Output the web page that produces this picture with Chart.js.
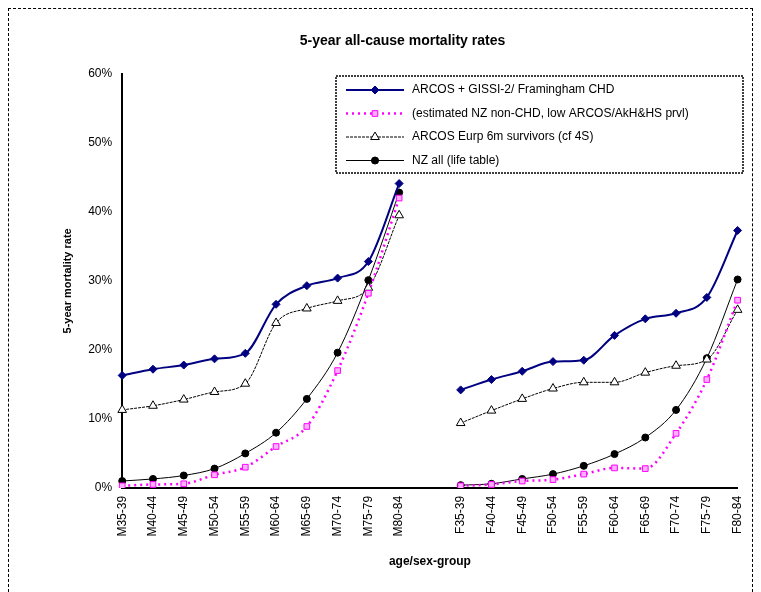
<!DOCTYPE html>
<html lang="en">
<head>
<meta charset="UTF-8">
<title>5-year mortality</title>
<script src="https://cdn.jsdelivr.net/npm/chart.js"></script>
<style>
  body { margin: 0; background: #fff; }
  #wrap { position: absolute; left: 8px; top: 8px; width: 745px; height: 584px; border: 1px dashed #000; border-bottom: none; box-sizing: border-box; }
  canvas { position: absolute; left: 0; top: 0; }
</style>
<script>
const labels = ['M35-39','M40-44','M45-49','M50-54','M55-59','M60-64','M65-69','M70-74','M75-79','M80-84','',
                'F35-39','F40-44','F45-49','F50-54','F55-59','F60-64','F65-69','F70-74','F75-79','F80-84'];
const arcosGissi = [16.3,17.2,17.8,18.7,19.5,26.6,29.3,30.4,32.8,44.1,null,14.2,15.7,16.9,18.3,18.5,22.1,24.5,25.3,27.6,37.3];
const nzNonChd   = [0.3,0.5,0.6,1.9,3.0,6.0,8.9,17.0,28.2,42.0,null,0.3,0.5,1.0,1.2,2.0,2.9,2.8,7.9,15.7,27.2];
const arcosEurp  = [11.3,11.9,12.8,13.9,15.1,23.9,26.0,27.1,29.0,39.5,null,9.4,11.2,12.9,14.4,15.3,15.3,16.7,17.7,18.6,25.8];
const nzAll      = [1.0,1.3,1.8,2.8,5.0,8.0,12.9,19.6,30.1,42.8,null,0.4,0.6,1.3,2.0,3.2,4.9,7.3,11.3,18.8,30.2];
const seriesNames = ['ARCOS + GISSI-2/ Framingham CHD','(estimated NZ non-CHD, low ARCOS/AkH&HS prvl)','ARCOS Eurp 6m survivors (cf 4S)','NZ all (life table)'];
</script>
</head>
<body>
<div id="wrap"><canvas id="c" width="745" height="584"></canvas></div>
<script>
Chart.defaults.font.family = '"Liberation Sans", Arial, sans-serif';
Chart.defaults.color = '#000';
const F = '"Liberation Sans", Arial, sans-serif';

const styles = [
  {color:'#000080', dash:[], width:2, point:'rectRot', fill:'#000080', radius:4},
  {color:'#ff00ff', dash:[2,4], width:2.5, point:'rect', fill:'#ffb0ff', radius:4},
  {color:'#000', dash:[3,1], width:1, point:'triangle', fill:'#fff', radius:5},
  {color:'#000', dash:[], width:1, point:'circle', fill:'#000', radius:3.5}
];
const arrays = [arcosGissi, nzNonChd, arcosEurp, nzAll];
const datasets = arrays.map((d,i)=>({
  label: seriesNames[i], data: d,
  borderColor: styles[i].color, borderDash: styles[i].dash, borderWidth: styles[i].width,
  pointStyle: styles[i].point, pointRadius: styles[i].radius,
  pointBackgroundColor: styles[i].fill, pointBorderColor: styles[i].color, pointBorderWidth: 1,
  tension: 0.15, spanGaps: false, cubicInterpolationMode: 'monotone'
}));

const legendBox = {
  id: 'legendBox',
  afterDraw(chart) {
    const ctx = chart.ctx;
    const x = 327, y = 67, w = 407, h = 97;
    ctx.save();
    ctx.fillStyle = '#fff';
    ctx.fillRect(x, y, w, h);
    ctx.setLineDash([2,1]); ctx.strokeStyle = '#000'; ctx.lineWidth = 1.5;
    ctx.strokeRect(x, y, w, h);
    ctx.font = '12px ' + F;
    ctx.textBaseline = 'middle';
    seriesNames.forEach((n, i) => {
      const s = styles[i], ly = y + 14 + i * 23.5;
      ctx.setLineDash(s.dash); ctx.strokeStyle = s.color; ctx.lineWidth = s.width;
      ctx.beginPath(); ctx.moveTo(x + 10, ly); ctx.lineTo(x + 68, ly); ctx.stroke();
      ctx.setLineDash([]); ctx.lineWidth = 1;
      ctx.fillStyle = s.fill; ctx.strokeStyle = s.color;
      ctx.beginPath();
      Chart.helpers.drawPoint(ctx, {pointStyle: s.point, radius: s.radius}, x + 39, ly);
      ctx.fill(); ctx.stroke();
      ctx.fillStyle = '#000';
      ctx.fillText(n, x + 76, ly);
    });
    ctx.restore();
  }
};

new Chart(document.getElementById('c'), {
  type: 'line',
  data: { labels, datasets },
  plugins: [legendBox],
  options: {
    responsive: false, animation: false,
    layout: { padding: { left: 48, right: 6, top: 4, bottom: 20 } },
    plugins: {
      legend: { display: false },
      tooltip: { enabled: false },
      title: { display: true, text: '5-year all-cause mortality rates', font: { size: 14, weight: 'bold', family: F }, padding: { top: 20, bottom: 24 } }
    },
    scales: {
      x: {
        offset: false,
        grid: { display: false, drawTicks: true, tickLength: 6, color: '#000' },
        border: { color: '#000', width: 2 },
        ticks: { autoSkip: false, maxRotation: 90, minRotation: 90, font: { size: 12 }, padding: 2 },
        title: { display: true, text: 'age/sex-group', font: { size: 12, weight: 'bold' }, padding: { top: 16 } }
      },
      y: {
        min: 0, max: 60,
        grid: { display: false, drawTicks: true, tickLength: 6, color: '#000' },
        border: { color: '#000', width: 2 },
        ticks: { stepSize: 10, callback: v => v + '%', font: { size: 12 }, padding: 4 },
        title: { display: true, text: '5-year mortality rate', font: { size: 11, weight: 'bold' }, padding: { bottom: 10 } }
      }
    }
  }
});
</script>
</body>
</html>
